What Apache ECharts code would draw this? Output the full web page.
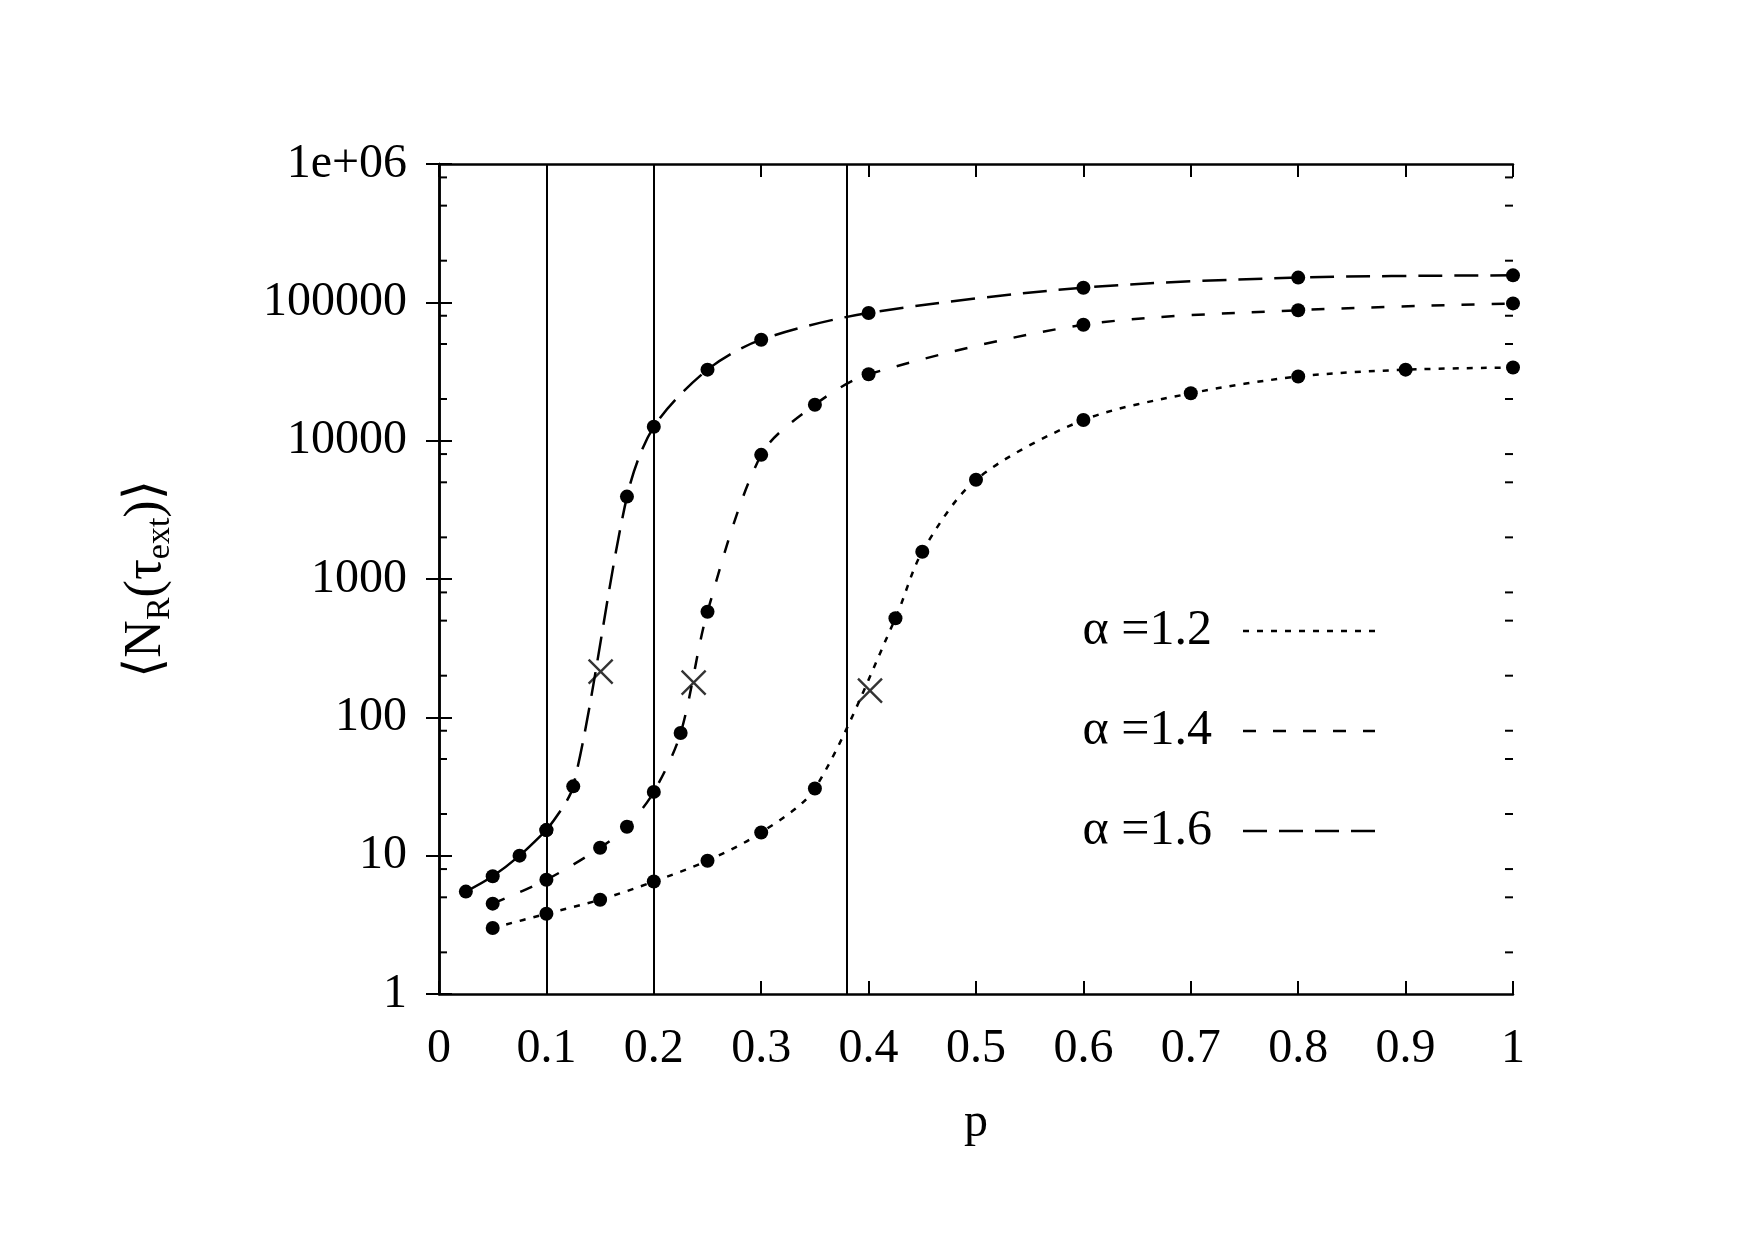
<!DOCTYPE html>
<html>
<head>
<meta charset="utf-8">
<script src="https://cdn.jsdelivr.net/npm/echarts@6/dist/echarts.min.js"></script>
<style>
  html, body { margin: 0; padding: 0; background: #fff; }
  #chart { width: 1755px; height: 1240px; }
</style>
</head>
<body>
<div id="chart"></div>
<script>
// measured values, alpha = 1.2 / 1.4 / 1.6
const p12 = [0.05, 0.1, 0.15, 0.2, 0.25, 0.3, 0.35, 0.425, 0.45, 0.5, 0.6, 0.7, 0.8, 0.9, 1.0];
const n12 = [3.0, 3.8, 4.8, 6.5, 9.2, 14.7, 30.6, 520, 1575, 5220, 14100, 22000, 29100, 32600, 33800];

const p14 = [0.05, 0.1, 0.15, 0.175, 0.2, 0.225, 0.25, 0.3, 0.35, 0.4, 0.6, 0.8, 1.0];
const n14 = [4.5, 6.7, 11.4, 16.2, 28.9, 77, 580, 7900, 18200, 30200, 68800, 87700, 98200];

const p16 = [0.025, 0.05, 0.075, 0.1, 0.125, 0.175, 0.2, 0.25, 0.3, 0.4, 0.6, 0.8, 1.0];
const n16 = [5.5, 7.1, 10, 15.3, 31.7, 3940, 12600, 32600, 53700, 83800, 127600, 151000, 156700];

// crossing points (x markers) and vertical reference lines
const pCross = [0.1505, 0.2371, 0.4013];
const nCross = [214, 178, 156];
const pVert = [0.1034, 0.2027, 0.3833];

const yTickLabels = ['1', '10', '100', '1000', '10000', '100000', '1e+06'];
const yMinorTicks = [2, 5, 8, 20, 50, 80, 200, 500, 800, 2000, 5000, 8000,
  20000, 50000, 80000, 200000, 500000, 800000];

const legendNames = ['\u03b1 =1.2', '\u03b1 =1.4', '\u03b1 =1.6'];
const dashes = [[6, 8], [13, 17], [24, 12]];

const FONT = '"Liberation Serif", "DejaVu Serif", serif';

function pairs(xs, ys) {
  return xs.map((x, i) => [x, ys[i]]);
}

const chart = echarts.init(document.getElementById('chart'));

const lineBase = {
  type: 'line',
  symbol: 'circle',
  symbolSize: 14,
  smooth: 0.3,
  itemStyle: { color: '#000' },
  z: 3
};

const tickStyle = { inside: true, length: 13, lineStyle: { color: '#000', width: 2 } };
const frameLine = { show: true, lineStyle: { color: '#000', width: 2.5 } };

const option = {
  animation: false,
  backgroundColor: '#fff',
  grid: { left: 439, right: 242, top: 164, bottom: 246 },
  xAxis: [{
    type: 'value', min: 0, max: 1, interval: 0.1,
    axisLine: frameLine, axisTick: tickStyle, splitLine: { show: false },
    axisLabel: {
      margin: 31, color: '#000', fontFamily: FONT, fontSize: 48,
      formatter: v => String(+v.toFixed(1))
    },
    name: 'p', nameLocation: 'middle', nameGap: 105,
    nameTextStyle: { color: '#000', fontFamily: FONT, fontSize: 48 }
  }, {
    type: 'value', min: 0, max: 1, interval: 0.1, position: 'top',
    axisLine: frameLine, axisTick: tickStyle, axisLabel: { show: false },
    splitLine: { show: false }
  }],
  yAxis: [{
    type: 'log', logBase: 10, min: 1, max: 1e6,
    axisLine: frameLine, axisTick: tickStyle, splitLine: { show: false },
    axisLabel: {
      margin: 32, color: '#000', fontFamily: FONT, fontSize: 48,
      formatter: v => yTickLabels[Math.round(Math.log10(v))]
    }
  }, {
    type: 'log', logBase: 10, min: 1, max: 1e6, position: 'right',
    axisLine: frameLine, axisTick: tickStyle, axisLabel: { show: false },
    splitLine: { show: false }
  }],
  series: [
    Object.assign({}, lineBase, {
      name: legendNames[0], data: pairs(p12, n12),
      lineStyle: { color: '#000', width: 2.5, type: dashes[0] }
    }),
    Object.assign({}, lineBase, {
      name: legendNames[1], data: pairs(p14, n14),
      lineStyle: { color: '#000', width: 2.5, type: dashes[1] }
    }),
    Object.assign({}, lineBase, {
      name: legendNames[2], data: pairs(p16, n16).slice(3),
      lineStyle: { color: '#000', width: 2.5, type: dashes[2] }
    }),
    // low-p part of alpha=1.6 drawn solid, as in the original
    Object.assign({}, lineBase, {
      name: 'a16low', data: pairs(p16, n16).slice(0, 4),
      lineStyle: { color: '#000', width: 2.5, type: 'solid' }
    }),
    {
      type: 'scatter',
      data: pairs(pCross, nCross),
      symbol: 'path://M0,0L10,10M10,0L0,10',
      symbolSize: 24,
      itemStyle: { color: 'none', borderColor: '#000', borderWidth: 2.4 },
      z: 4,
      markLine: {
        silent: true, symbol: 'none', animation: false,
        label: { show: false },
        lineStyle: { color: '#000', width: 2, type: 'solid' },
        data: pVert.map(x => ({ xAxis: x }))
      }
    },
    {
      // minor log ticks on left and right frame
      type: 'custom',
      data: yMinorTicks.map(v => [0, v]),
      encode: { x: 0, y: 1 },
      silent: true,
      clip: false,
      z: 5,
      renderItem: function (params, api) {
        const v = api.value(1);
        const l = api.coord([0, v]);
        const r = api.coord([1, v]);
        return {
          type: 'group',
          children: [
            { type: 'line', shape: { x1: l[0], y1: l[1], x2: l[0] + 8, y2: l[1] }, style: { stroke: '#000', lineWidth: 2 } },
            { type: 'line', shape: { x1: r[0], y1: r[1], x2: r[0] - 8, y2: r[1] }, style: { stroke: '#000', lineWidth: 2 } }
          ]
        };
      }
    }
  ],
  graphic: [
    {
      type: 'text',
      x: 146, y: 579,
      rotation: Math.PI / 2,
      style: {
        text: '{a|\u27e8N}{s|R}{a|(\u03c4}{s|ext}{a|)\u27e9}',
        align: 'center', verticalAlign: 'middle',
        fill: '#000',
        rich: {
          a: { fontFamily: FONT, fontSize: 52, lineHeight: 62, verticalAlign: 'middle', fill: '#000' },
          s: { fontFamily: FONT, fontSize: 34, lineHeight: 40, verticalAlign: 'bottom', fill: '#000' }
        }
      }
    }
  ].concat(legendNames.flatMap((name, i) => {
    const y = 631 + i * 100;
    return [
      {
        type: 'text', x: 1212, y: y,
        style: {
          text: name, align: 'right', verticalAlign: 'middle',
          fontFamily: FONT, fontSize: 50, fill: '#000'
        }
      },
      {
        type: 'line',
        shape: { x1: 1243, y1: y, x2: 1375, y2: y },
        style: { stroke: '#000', lineWidth: 2.5, lineDash: dashes[i] }
      }
    ];
  }))
};

chart.setOption(option);
</script>
</body>
</html>
